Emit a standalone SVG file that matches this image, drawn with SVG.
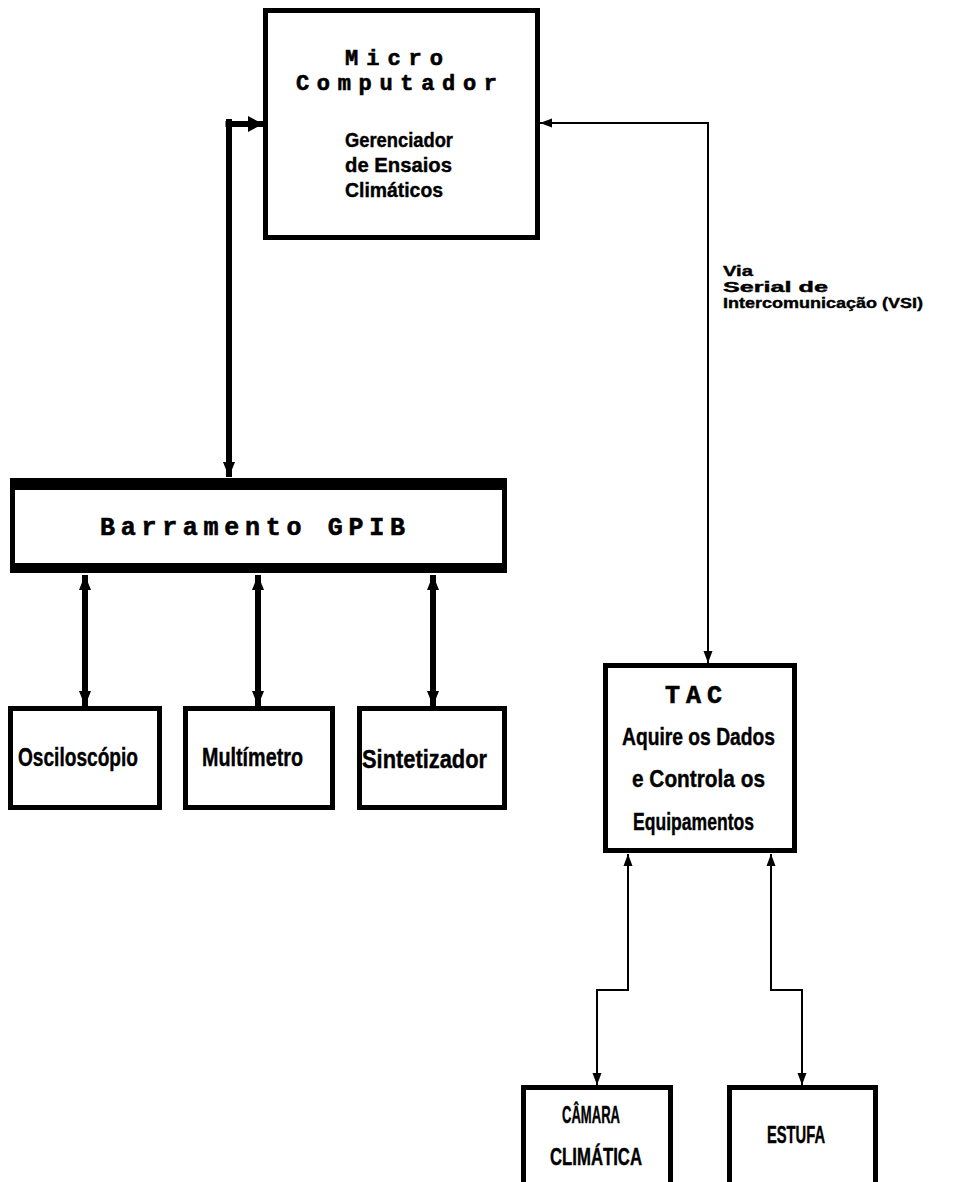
<svg xmlns="http://www.w3.org/2000/svg" width="957" height="1182" viewBox="0 0 957 1182">
  <style>
    .box { fill: #fff; stroke: #000; stroke-width: 5; }
    .head { font-family: "Liberation Mono", "DejaVu Sans Mono", monospace; font-weight: bold; fill: #000; stroke: #000; stroke-width: 0.6; }
    .cond { font-family: "Liberation Sans", "DejaVu Sans", sans-serif; font-weight: bold; fill: #000; stroke: #000; stroke-width: 0.4; }
    .thin { fill: none; stroke: #000; stroke-width: 2; }
    .thick { fill: none; stroke: #000; stroke-width: 6; }
  </style>
  <defs>
    <marker id="arrThin" markerUnits="userSpaceOnUse" markerWidth="14" markerHeight="12" refX="12" refY="5" orient="auto-start-reverse" viewBox="0 0 14 10">
      <path d="M0,0.5 L12,5 L0,9.5 Z" fill="#000"/>
    </marker>
    <marker id="arrThick" markerUnits="userSpaceOnUse" markerWidth="16" markerHeight="14" refX="15" refY="6.5" orient="auto-start-reverse" viewBox="0 0 16 13">
      <path d="M0,0.5 L15,6.5 L0,12.5 Z" fill="#000"/>
    </marker>
    <marker id="arrBig" markerUnits="userSpaceOnUse" markerWidth="16" markerHeight="18" refX="15" refY="8.5" orient="auto" viewBox="0 0 16 17">
      <path d="M0,0.5 L15,8.5 L0,16.5 Z" fill="#000"/>
    </marker>
  </defs>
  <rect width="957" height="1182" fill="#fff"/>

  <!-- connectors -->
  <g id="connectors">
    <!-- GPIB link to the micro computer -->
    <path class="thick" d="M229,119 V477" stroke-width="7" marker-end="url(#arrThick)"/>
    <path class="thick" d="M225.5,124 H263" stroke-width="10" marker-end="url(#arrBig)"/>
    <!-- serial line VSI -->
    <path class="thin" d="M540,123 H708 V663" marker-start="url(#arrThin)" marker-end="url(#arrThin)"/>
    <!-- GPIB to instruments -->
    <path class="thick" d="M85,575 V706" marker-start="url(#arrThick)" marker-end="url(#arrThick)"/>
    <path class="thick" d="M258,575 V706" marker-start="url(#arrThick)" marker-end="url(#arrThick)"/>
    <path class="thick" d="M433,575 V706" marker-start="url(#arrThick)" marker-end="url(#arrThick)"/>
    <!-- TAC to equipment -->
    <path class="thin" d="M628,854 V990 H597 V1085" marker-start="url(#arrThin)" marker-end="url(#arrThin)"/>
    <path class="thin" d="M771,854 V990 H802 V1085" marker-start="url(#arrThin)" marker-end="url(#arrThin)"/>
    <!-- label of the serial line -->
    <text class="cond" font-size="15" x="723" y="276" textLength="30" lengthAdjust="spacingAndGlyphs">Via</text>
    <text class="cond" font-size="15" x="723" y="292" textLength="105" lengthAdjust="spacingAndGlyphs">Serial de</text>
    <text class="cond" font-size="15" x="723" y="308" textLength="200" lengthAdjust="spacingAndGlyphs">Intercomunicação (VSI)</text>
  </g>

  <g id="micro">
    <rect class="box" x="265.5" y="10.5" width="272" height="227"/>
    <text class="head" font-size="22" x="345" y="65" textLength="98" lengthAdjust="spacing">Micro</text>
    <text class="head" font-size="22" x="296" y="90" textLength="201" lengthAdjust="spacing">Computador</text>
    <text class="cond" font-size="21" x="345" y="147" textLength="108" lengthAdjust="spacingAndGlyphs">Gerenciador</text>
    <text class="cond" font-size="21" x="345" y="172" textLength="107" lengthAdjust="spacingAndGlyphs">de  Ensaios</text>
    <text class="cond" font-size="21" x="345" y="197" textLength="98" lengthAdjust="spacingAndGlyphs">Climáticos</text>
  </g>

  <g id="gpib">
    <path d="M10,478 H507 V573 H10 Z M15,490 V563 H502 V490 Z" fill="#000" fill-rule="evenodd"/>
    <text class="head" font-size="25" x="100" y="535" textLength="305" lengthAdjust="spacing">Barramento GPIB</text>
  </g>

  <g id="osciloscopio">
    <rect class="box" x="10.5" y="708.5" width="149" height="99"/>
    <text class="cond" font-size="25" x="18" y="766" textLength="120" lengthAdjust="spacingAndGlyphs">Osciloscópio</text>
  </g>

  <g id="multimetro">
    <rect class="box" x="185.5" y="708.5" width="147" height="99"/>
    <text class="cond" font-size="25" x="202" y="766" textLength="101" lengthAdjust="spacingAndGlyphs">Multímetro</text>
  </g>

  <g id="sintetizador">
    <rect class="box" x="359.5" y="708.5" width="145" height="99"/>
    <text class="cond" font-size="25" x="362" y="768" textLength="125" lengthAdjust="spacingAndGlyphs">Sintetizador</text>
  </g>

  <g id="tac">
    <rect class="box" x="605.5" y="665.5" width="189" height="185"/>
    <text class="head" font-size="25" x="665" y="703" textLength="57" lengthAdjust="spacing">TAC</text>
    <text class="cond" font-size="24" x="622" y="745" textLength="153" lengthAdjust="spacingAndGlyphs">Aquire os Dados</text>
    <text class="cond" font-size="24" x="632" y="787" textLength="133" lengthAdjust="spacingAndGlyphs">e Controla os</text>
    <text class="cond" font-size="24" x="633" y="830" textLength="121" lengthAdjust="spacingAndGlyphs">Equipamentos</text>
  </g>

  <g id="camara">
    <rect class="box" x="523.5" y="1087.5" width="147" height="120"/>
    <text class="cond" font-size="23" x="562" y="1123" textLength="58" lengthAdjust="spacingAndGlyphs">CÂMARA</text>
    <text class="cond" font-size="23" x="550" y="1165" textLength="92" lengthAdjust="spacingAndGlyphs">CLIMÁTICA</text>
  </g>

  <g id="estufa">
    <rect class="box" x="729.5" y="1087.5" width="146" height="120"/>
    <text class="cond" font-size="23" x="767" y="1143" textLength="58" lengthAdjust="spacingAndGlyphs">ESTUFA</text>
  </g>
</svg>
